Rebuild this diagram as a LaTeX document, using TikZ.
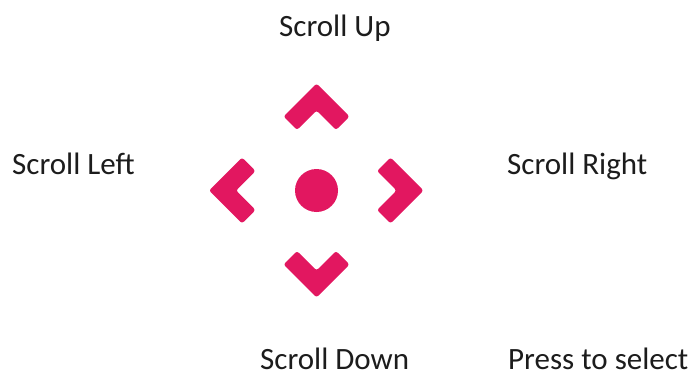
\documentclass[tikz,border=0pt]{standalone}
\usepackage{fontspec}
\setmainfont{Carlito}
\usetikzlibrary{calc}
\definecolor{padpink}{RGB}{226,23,96}
\definecolor{labelink}{RGB}{28,28,28}
\tikzset{
  padshape/.style={fill=padpink, draw=none, rounded corners=2.5pt},
  padlabel/.style={anchor=base west, inner sep=0pt, text=labelink,
    font=\fontsize{31}{31}\selectfont},
  pics/chevron/.style={code={
    \fill[padshape] (0,-13.5) -- (33,19.5) -- (19.5,33) -- (0,13.5)
      -- (-19.5,33) -- (-33,19.5) -- cycle;
  }}
}
\begin{document}
\begin{tikzpicture}[x=1pt, y=-1pt]
  \useasboundingbox (0,0) rectangle (695,377);
  % centre button
  \coordinate (pad) at (316.5,190.5);
  \node[circle, fill=padpink, minimum size=43pt, inner sep=0pt] (select) at (pad) {};
  % direction chevrons
  \pic (up)    at ($(pad)+(0,-93.5)$) {chevron};
  \pic[rotate=180] (down)  at ($(pad)+(0,93.5)$)  {chevron};
  \pic[rotate=90]  (left)  at ($(pad)+(-94,0)$) {chevron};
  \pic[rotate=-90] (right) at ($(pad)+(93.5,0)$)  {chevron};
  % labels
  \node[padlabel] (lup)    at (279,37)  {Scroll Up};
  \node[padlabel] (lleft)  at (12,174)  {Scroll Left};
  \node[padlabel] (lright) at (507,174) {Scroll Right};
  \node[padlabel] (ldown)  at (260,369) {Scroll Down};
  \node[padlabel] (lpress) at (508,369) {Press to select};
\end{tikzpicture}
\end{document}
